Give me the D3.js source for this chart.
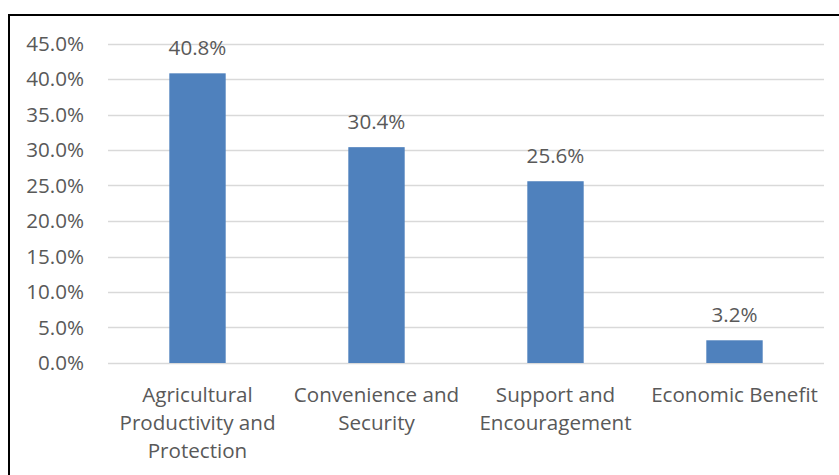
<!DOCTYPE html>
<html>
<head>
<meta charset="utf-8">
<script src="https://cdn.jsdelivr.net/npm/d3@7"></script>
<style>
  html, body { margin: 0; padding: 0; background: #fff; }
  svg { display: block; }
  text { font-family: "Open Sans", "Noto Sans", sans-serif; fill: #595959; }
</style>
</head>
<body>
<svg id="chart" width="839" height="475"></svg>
<script>
// Chart data
const categories = [
  ["Agricultural", "Productivity and", "Protection"],
  ["Convenience and", "Security"],
  ["Support and", "Encouragement"],
  ["Economic Benefit"]
];
const values = [40.8, 30.4, 25.6, 3.2];
const yTicks = [0, 5, 10, 15, 20, 25, 30, 35, 40, 45];

const FONT = '"Open Sans", "Noto Sans", sans-serif';
const FS = 20.6;
const svg = d3.select("#chart");
const W = 839, H = 475;

// Outer frame (runs past the right and bottom edges)
svg.append("rect")
  .attr("x", 9).attr("y", 15)
  .attr("width", W + 10).attr("height", H + 10)
  .attr("fill", "none").attr("stroke", "#000").attr("stroke-width", 2);

const plot = { left: 108, right: 824, top: 43.5, bottom: 363 };

const x = d3.scaleBand()
  .domain(d3.range(categories.length))
  .range([plot.left, plot.right])
  .paddingInner(0.685).paddingOuter(0.3425);

const y = d3.scaleLinear().domain([0, 45]).range([plot.bottom, plot.top]);

// Gridlines
svg.append("g").selectAll("line").data(yTicks).join("line")
  .attr("x1", plot.left).attr("x2", plot.right)
  .attr("y1", d => Math.round(y(d)) + 0.5).attr("y2", d => Math.round(y(d)) + 0.5)
  .attr("stroke", "#d9d9d9").attr("stroke-width", 1.5);

// Y axis tick labels
const yAxis = d3.axisLeft(y).tickValues(yTicks).tickSize(0).tickPadding(0)
  .tickFormat(d => d.toFixed(1) + "%");
const gy = svg.append("g").attr("transform", `translate(${plot.left - 24},0)`).call(yAxis);
gy.select(".domain").remove();
gy.selectAll("text").attr("font-size", FS).style("fill", "#595959")
  .style("font-family", FONT);

// Bars
svg.append("g").selectAll("rect").data(values).join("rect")
  .attr("x", (d, i) => x(i)).attr("width", x.bandwidth())
  .attr("y", d => y(d)).attr("height", d => y(0) - y(d))
  .attr("fill", "#4f81bd");

// Value labels
svg.append("g").selectAll("text").data(values).join("text")
  .attr("x", (d, i) => x(i) + x.bandwidth() / 2)
  .attr("y", d => y(d) - 18.5)
  .attr("text-anchor", "middle").attr("font-size", FS)
  .text(d => d.toFixed(1) + "%");

// Category labels
const cat = svg.append("g").selectAll("text").data(categories).join("text")
  .attr("x", (d, i) => x(i) + x.bandwidth() / 2)
  .attr("y", 401.5)
  .attr("text-anchor", "middle").attr("font-size", FS);
cat.selectAll("tspan").data(d => d).join("tspan")
  .attr("x", function () { return d3.select(this.parentNode).attr("x"); })
  .attr("dy", (d, i) => i === 0 ? 0 : 28.3)
  .text(d => d);
</script>
</body>
</html>
